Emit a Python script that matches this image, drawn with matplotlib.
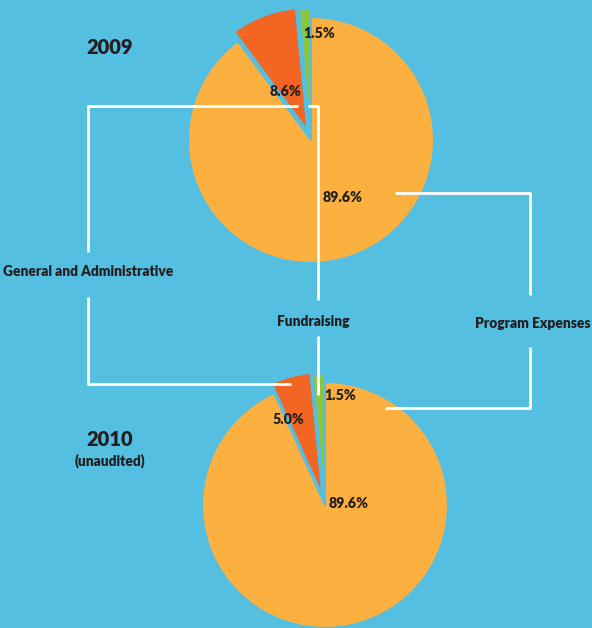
import matplotlib.pyplot as plt

# slices in drawing order: Fundraising, General and Administrative, Program Expenses
categories = ['Fundraising', 'General and Administrative', 'Program Expenses']
shares_2009 = [1.5, 8.6, 89.6]
shares_2010 = [1.5, 5.0, 89.6]
pct_labels_2009 = ['1.5%', '8.6%', '89.6%']
pct_labels_2010 = ['1.5%', '5.0%', '89.6%']

W, H = 592, 628
BG = '#54BFE0'
COLORS = ['#8CC63F', '#F26522', '#FBB040']
INK = '#231F20'


def Y(y):
    # image pixel row -> data y (y up)
    return H - y


def main():
    plt.rcParams['font.family'] = ['Lato', 'DejaVu Sans']
    fig = plt.figure(figsize=(W / 100, H / 100), dpi=100, facecolor=BG)
    ax = fig.add_axes([0, 0, 1, 1])
    ax.set_facecolor(BG)

    # explode is in data units (pixels here)
    wp = dict(edgecolor=BG, linewidth=1.5)
    ax.pie(shares_2009, colors=COLORS, startangle=90, counterclock=True,
           explode=[8, 10, 0], radius=123, center=(311, Y(140)),
           wedgeprops=wp, frame=True)
    ax.pie(shares_2010, colors=COLORS, startangle=90, counterclock=True,
           explode=[7, 10, 0], radius=123, center=(325, Y(505)),
           wedgeprops=wp, frame=True)
    ax.set_xlim(0, W)
    ax.set_ylim(0, H)
    ax.set_aspect('equal')
    ax.axis('off')

    # connector lines
    lk = dict(color='white', lw=2, solid_capstyle='butt', zorder=5)
    ax.plot([298, 88, 88], [Y(106), Y(106), Y(252)], **lk)
    ax.plot([88, 88, 291], [Y(297), Y(384), Y(384)], **lk)
    ax.plot([308, 318, 318], [Y(106), Y(106), Y(300)], **lk)
    ax.plot([318, 318], [Y(336), Y(395)], **lk)
    ax.plot([395, 530, 530], [Y(193), Y(193), Y(295)], **lk)
    ax.plot([530, 530, 385], [Y(347), Y(408), Y(408)], **lk)

    tk = dict(ha='center', va='center', color=INK, fontweight='heavy', zorder=6)
    ax.text(88, Y(272), categories[1], fontsize=9.9, **tk)
    ax.text(313, Y(321), categories[0], fontsize=9.9, **tk)
    ax.text(533, Y(324), categories[2], fontsize=9.9, **tk)

    ax.text(110, Y(48), '2009', fontsize=14.5, **tk)
    ax.text(110, Y(440), '2010', fontsize=14.5, **tk)
    ax.text(110, Y(461), '(unaudited)', fontsize=9.9, **tk)

    for lab, (x, y) in zip(pct_labels_2009, [(319, 34), (285, 91), (343, 197)]):
        ax.text(x, Y(y), lab, fontsize=10.2, **tk)
    for lab, (x, y) in zip(pct_labels_2010, [(340, 395), (288, 420), (349, 503)]):
        ax.text(x, Y(y), lab, fontsize=10.2, **tk)

    plt.savefig('out.png', dpi=100, facecolor=BG)


if __name__ == "__main__":
    main()
